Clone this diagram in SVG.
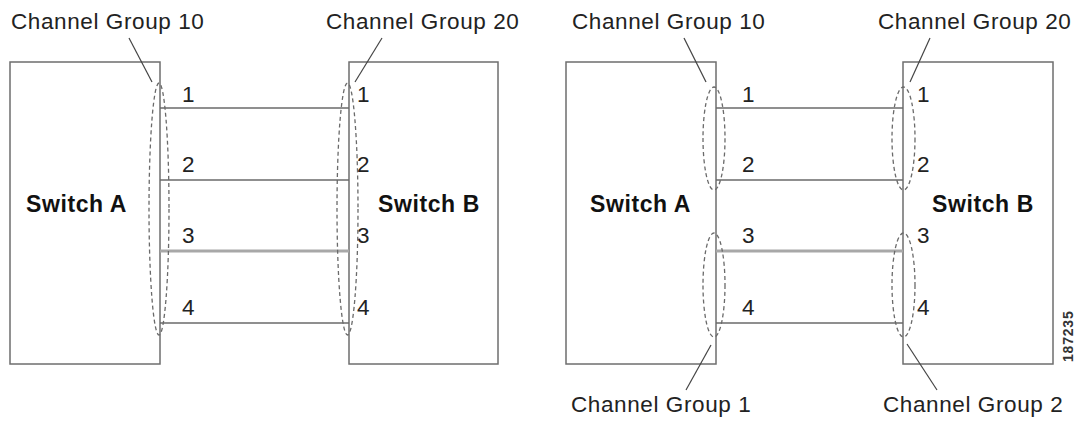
<svg xmlns="http://www.w3.org/2000/svg" width="1080" height="423" viewBox="0 0 1080 423">
<style>
.box{fill:#fff;stroke:#6e6e6e;stroke-width:1.5}
.link{stroke:#6a6a6a;stroke-width:1.5;fill:none}
.link3{stroke:#a8a8a8;stroke-width:3;fill:none}
.grp{fill:none;stroke:#6a6a6a;stroke-width:1.3;stroke-dasharray:4 3}
.lead{stroke:#444;stroke-width:1.2;fill:none}
.lbl{font-family:"Liberation Sans",Arial,sans-serif;font-size:22.5px;fill:#222;letter-spacing:0.6px}
.num{font-family:"Liberation Sans",Arial,sans-serif;font-size:22.5px;fill:#222}
.sw{font-family:"Liberation Sans",Arial,sans-serif;font-size:23px;font-weight:bold;fill:#111;letter-spacing:0.6px}
.id{font-family:"Liberation Sans",Arial,sans-serif;font-size:14px;font-weight:bold;fill:#333;letter-spacing:0.8px}
</style>
<rect width="1080" height="423" fill="#fff"/>

<g id="switchA1">
  <rect class="box" x="10" y="62" width="150" height="302"/>
  <text class="sw" x="26" y="212">Switch A</text>
</g>
<g id="switchB1">
  <rect class="box" x="349" y="62" width="149" height="302"/>
  <text class="sw" x="378" y="212">Switch B</text>
</g>

<g id="switchA2">
  <rect class="box" x="566" y="62" width="150" height="302"/>
  <text class="sw" x="590" y="212">Switch A</text>
</g>
<g id="switchB2">
  <rect class="box" x="903" y="62" width="150" height="302"/>
  <text class="sw" x="932" y="212">Switch B</text>
</g>

<g id="connectors">
  <line class="link" x1="160" y1="108" x2="349" y2="108"/>
  <line class="link" x1="160" y1="180" x2="349" y2="180"/>
  <line class="link3" x1="160" y1="251" x2="349" y2="251"/>
  <line class="link" x1="160" y1="323" x2="349" y2="323"/>
  <line class="link" x1="716" y1="108" x2="903" y2="108"/>
  <line class="link" x1="716" y1="180" x2="903" y2="180"/>
  <line class="link3" x1="716" y1="251" x2="903" y2="251"/>
  <line class="link" x1="716" y1="323" x2="903" y2="323"/>
</g>

<g id="link-labels">
  <text class="num" x="182" y="102">1</text>
  <text class="num" x="182" y="172">2</text>
  <text class="num" x="182" y="243">3</text>
  <text class="num" x="182" y="315">4</text>
  <text class="num" x="357" y="102">1</text>
  <text class="num" x="357" y="172">2</text>
  <text class="num" x="357" y="243">3</text>
  <text class="num" x="357" y="315">4</text>
  <text class="num" x="742" y="102">1</text>
  <text class="num" x="742" y="172">2</text>
  <text class="num" x="742" y="243">3</text>
  <text class="num" x="742" y="315">4</text>
  <text class="num" x="917" y="102">1</text>
  <text class="num" x="917" y="172">2</text>
  <text class="num" x="917" y="243">3</text>
  <text class="num" x="917" y="315">4</text>
</g>

<g id="group10-left">
  <ellipse class="grp" cx="159" cy="209" rx="10" ry="126"/>
  <line class="lead" x1="129" y1="38" x2="152" y2="82"/>
  <text class="lbl" x="11" y="29">Channel Group 10</text>
</g>
<g id="group20-left">
  <ellipse class="grp" cx="347.5" cy="209" rx="10.5" ry="126"/>
  <line class="lead" x1="382" y1="38" x2="355" y2="82"/>
  <text class="lbl" x="326" y="29">Channel Group 20</text>
</g>

<g id="group10-right">
  <ellipse class="grp" cx="714" cy="138.5" rx="11" ry="51.5"/>
  <line class="lead" x1="684" y1="38" x2="706" y2="82"/>
  <text class="lbl" x="572" y="29">Channel Group 10</text>
</g>
<g id="group20-right">
  <ellipse class="grp" cx="903.5" cy="138.5" rx="11.5" ry="51.5"/>
  <line class="lead" x1="930" y1="38" x2="910" y2="82"/>
  <text class="lbl" x="878" y="29">Channel Group 20</text>
</g>
<g id="group1-right">
  <ellipse class="grp" cx="714" cy="285" rx="11" ry="52"/>
  <line class="lead" x1="711" y1="345" x2="686" y2="390"/>
  <text class="lbl" x="571" y="412">Channel Group 1</text>
</g>
<g id="group2-right">
  <ellipse class="grp" cx="903.5" cy="285" rx="11.5" ry="52"/>
  <line class="lead" x1="907" y1="344" x2="937" y2="390"/>
  <text class="lbl" x="883" y="412">Channel Group 2</text>
</g>

<text class="id" transform="translate(1073,362) rotate(-90)">187235</text>
</svg>
